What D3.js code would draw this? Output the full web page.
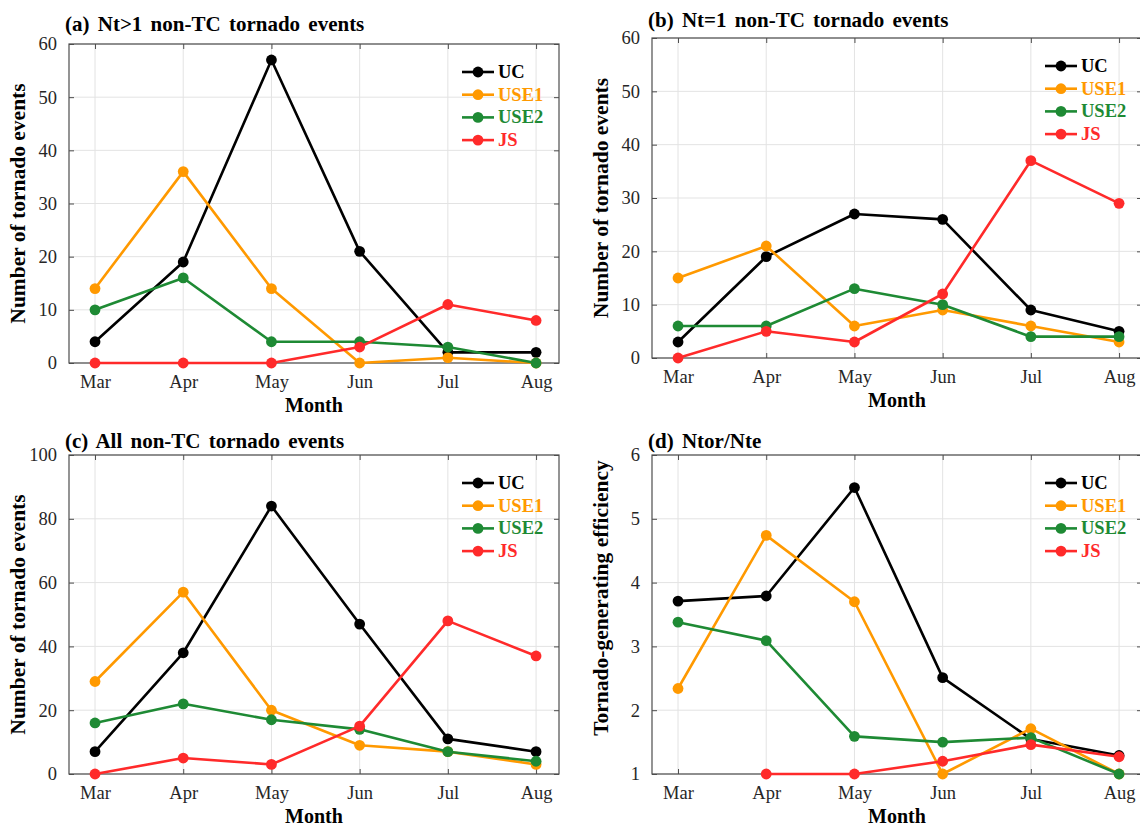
<!DOCTYPE html>
<html><head><meta charset="utf-8">
<script src="https://cdn.jsdelivr.net/npm/d3@7"></script>
<style>
body{margin:0;background:#fff;}
svg{display:block;font-family:"Liberation Serif","Times New Roman",serif;}
</style></head>
<body>
<svg id="chart" width="1140" height="826"></svg>
<script>
const months = ["Mar","Apr","May","Jun","Jul","Aug"];
const seriesNames = ["UC","USE1","USE2","JS"];
const seriesColors = ["#000000","#FF9900","#1E8A34","#FF2A2A"];

// (a) Nt>1 non-TC tornado events
const a_UC   = [4, 19, 57, 21, 2, 2];
const a_USE1 = [14, 36, 14, 0, 1, 0];
const a_USE2 = [10, 16, 4, 4, 3, 0];
const a_JS   = [0, 0, 0, 3, 11, 8];
// (b) Nt=1 non-TC tornado events
const b_UC   = [3, 19, 27, 26, 9, 5];
const b_USE1 = [15, 21, 6, 9, 6, 3];
const b_USE2 = [6, 6, 13, 10, 4, 4];
const b_JS   = [0, 5, 3, 12, 37, 29];
// (c) All non-TC tornado events
const c_UC   = [7, 38, 84, 47, 11, 7];
const c_USE1 = [29, 57, 20, 9, 7, 3];
const c_USE2 = [16, 22, 17, 14, 7, 4];
const c_JS   = [0, 5, 3, 15, 48, 37];
// (d) Ntor/Nte
const d_UC   = [3.71, 3.79, 5.49, 2.51, 1.55, 1.29];
const d_USE1 = [2.34, 4.74, 3.70, 1.00, 1.71, 1.00];
const d_USE2 = [3.38, 3.09, 1.59, 1.50, 1.57, 1.00];
const d_JS   = [null, 1.00, 1.00, 1.20, 1.46, 1.27];

const ticksCount = [0,10,20,30,40,50,60];
const ticksAll = [0,20,40,60,80,100];
const ticksEff = [1,2,3,4,5,6];

const panels = [
  {title:"(a) Nt>1 non-TC tornado events", ylab:"Number of tornado events", data:[a_UC,a_USE1,a_USE2,a_JS], yd:[0,60], yt:ticksCount,
   left:69, top:44, bottom:363, titleY:31, ylabY:null},
  {title:"(b) Nt=1 non-TC tornado events", ylab:"Number of tornado events", data:[b_UC,b_USE1,b_USE2,b_JS], yd:[0,60], yt:ticksCount,
   left:652, top:38, bottom:358, titleY:27, ylabY:null},
  {title:"(c) All non-TC tornado events", ylab:"Number of tornado events", data:[c_UC,c_USE1,c_USE2,c_JS], yd:[0,100], yt:ticksAll,
   left:69, top:455, bottom:774, titleY:448, ylabY:null},
  {title:"(d) Ntor/Nte", ylab:"Tornado-generating efficiency", data:[d_UC,d_USE1,d_USE2,d_JS], yd:[1,6], yt:ticksEff,
   left:652, top:455, bottom:774, titleY:448, ylabY:598}
];
const W = 490;
const svg = d3.select("#chart");
const axisGray = "#4d4d4d";

panels.forEach(p => {
  const right = p.left + W;
  const x = d3.scaleLinear().domain([-0.295, 5.26]).range([p.left, right]);
  const y = d3.scaleLinear().domain(p.yd).range([p.bottom, p.top]);
  const g = svg.append("g");

  // grid
  g.selectAll(".vg").data(months).enter().append("line")
    .attr("x1",(d,i)=>x(i)).attr("x2",(d,i)=>x(i)).attr("y1",p.top).attr("y2",p.bottom)
    .attr("stroke","#e3e3e3").attr("stroke-width",1);
  g.selectAll(".hg").data(p.yt).enter().append("line")
    .attr("x1",p.left).attr("x2",right).attr("y1",d=>y(d)).attr("y2",d=>y(d))
    .attr("stroke","#e3e3e3").attr("stroke-width",1);

  // axes via d3 axis with inward ticks
  const xAxis = d3.axisBottom(x).tickValues(d3.range(months.length)).tickFormat(i=>months[i]).tickSizeInner(-5).tickSizeOuter(0).tickPadding(12);
  const gx = g.append("g").attr("transform",`translate(0,${p.bottom})`).call(xAxis);
  const yAxis = d3.axisLeft(y).tickValues(p.yt).tickFormat(d3.format("d")).tickSizeInner(-5).tickSizeOuter(0).tickPadding(12);
  const gy = g.append("g").attr("transform",`translate(${p.left},0)`).call(yAxis);
  const xTop = d3.axisTop(x).tickValues(d3.range(months.length)).tickFormat("").tickSizeInner(-5).tickSizeOuter(0);
  g.append("g").attr("transform",`translate(0,${p.top})`).call(xTop);
  const yRight = d3.axisRight(y).tickValues(p.yt).tickFormat("").tickSizeInner(-5).tickSizeOuter(0);
  g.append("g").attr("transform",`translate(${right},0)`).call(yRight);
  g.selectAll(".domain").remove();
  g.selectAll(".tick line").attr("stroke",axisGray);
  [gx,gy].forEach(a=>a.selectAll("text").attr("font-family","Liberation Serif").attr("font-size",18.5).attr("fill","#262626"));
  gx.selectAll("text").attr("dy","0.71em");

  // box
  g.append("rect").attr("x",p.left).attr("y",p.top).attr("width",W).attr("height",p.bottom-p.top)
    .attr("fill","none").attr("stroke",axisGray).attr("stroke-width",1.2);

  // series
  p.data.forEach((vals,si) => {
    const pts = vals.map((v,i)=>({i,v})).filter(d=>d.v!==null);
    const line = d3.line().x(d=>x(d.i)).y(d=>y(d.v));
    g.append("path").datum(pts).attr("d",line).attr("fill","none")
      .attr("stroke",seriesColors[si]).attr("stroke-width",2.6).attr("stroke-linejoin","round");
    g.selectAll(null).data(pts).enter().append("circle")
      .attr("cx",d=>x(d.i)).attr("cy",d=>y(d.v)).attr("r",5.4).attr("fill",seriesColors[si]);
  });

  // legend
  seriesNames.forEach((nm,si) => {
    const ly = p.top + 28 + si*22.7;
    g.append("line").attr("x1",right-97).attr("x2",right-65).attr("y1",ly).attr("y2",ly)
      .attr("stroke",seriesColors[si]).attr("stroke-width",2.6);
    g.append("circle").attr("cx",right-81).attr("cy",ly).attr("r",5.4).attr("fill",seriesColors[si]);
    g.append("text").attr("x",right-61).attr("y",ly+6).text(nm)
      .attr("font-size",18.5).attr("font-weight","bold").attr("fill",seriesColors[si]);
  });

  // title
  g.append("text").attr("x",p.left-4).attr("y",p.titleY).text(p.title)
    .attr("font-size",21).attr("font-weight","bold").attr("fill","#000").style("word-spacing","3px");
  // x label
  g.append("text").attr("x",(p.left+right)/2).attr("y",p.bottom+49).attr("text-anchor","middle")
    .text("Month").attr("font-size",20).attr("font-weight","bold");
  // y label
  const cy = p.ylabY !== null ? p.ylabY : (p.top+p.bottom)/2;
  g.append("text").attr("transform",`translate(${p.left-44},${cy}) rotate(-90)`).attr("text-anchor","middle")
    .text(p.ylab).attr("font-size",21.5).attr("font-weight","bold");
});
</script>
</body></html>
